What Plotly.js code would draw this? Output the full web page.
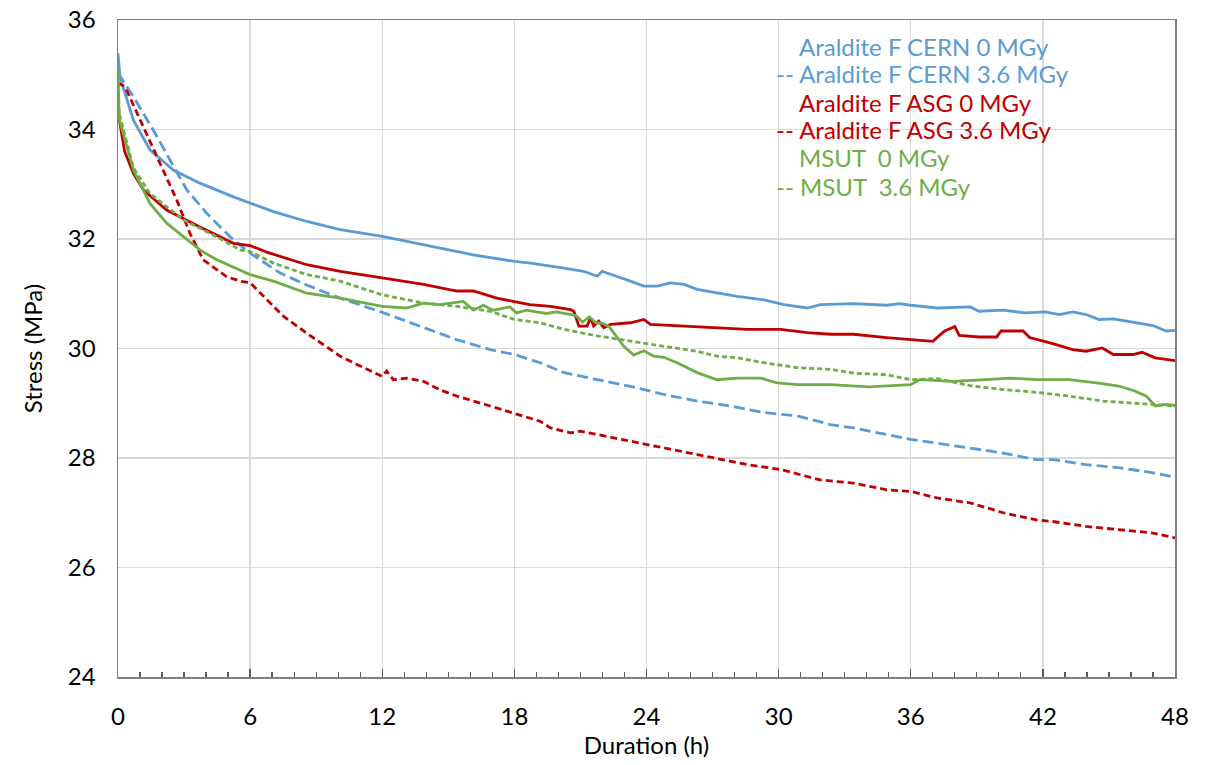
<!DOCTYPE html>
<html>
<head>
<meta charset="utf-8">
<script src="https://cdn.plot.ly/plotly-3.0.1.min.js"></script>
<style>html,body{margin:0;padding:0;background:#fff;}#chart{width:1212px;height:765px;}</style>
</head>
<body>
<div id="chart"></div>
<script>
// Araldite F CERN 0 MGy
const cern0H = [0, 0.09, 0.7, 1.45, 2.51, 3.72, 5.24, 6, 7.06, 8.57, 10.09, 12, 13.87, 16.14, 18, 18.73, 20.25, 21.15, 21.76, 21.99, 22.2, 22.67, 23.27, 23.88, 24.48, 25.09, 25.7, 26.3, 27.2, 28.12, 29.33, 30.24, 31.3, 31.9, 33.4, 34.9, 35.5, 36, 37.2, 38.7, 39.1, 40.2, 41.2, 42.1, 42.75, 43.35, 43.96, 44.56, 45.2, 46.2, 47, 47.6, 48];
const cern0V = [35.39, 34.96, 34.17, 33.63, 33.26, 33.02, 32.77, 32.66, 32.5, 32.32, 32.17, 32.05, 31.9, 31.71, 31.59, 31.56, 31.47, 31.41, 31.32, 31.41, 31.38, 31.32, 31.23, 31.14, 31.14, 31.2, 31.17, 31.08, 31.02, 30.95, 30.89, 30.8, 30.74, 30.8, 30.82, 30.79, 30.82, 30.79, 30.74, 30.76, 30.68, 30.7, 30.65, 30.67, 30.62, 30.67, 30.62, 30.53, 30.54, 30.48, 30.42, 30.32, 30.33];
// Araldite F CERN 3.6 MGy
const cern36H = [0, 0.7, 1.6, 2.36, 3.12, 4.03, 5.09, 6, 6.45, 7.36, 8.57, 10.09, 12, 13.87, 15.39, 16.9, 18, 19.17, 20.25, 21.76, 23.27, 24.79, 26.3, 27.8, 29.33, 30.84, 32.36, 33.4, 34.9, 36, 37.2, 38.7, 40.2, 41.7, 42.45, 43.96, 45.5, 47, 48];
const cern36V = [35.03, 34.6, 33.99, 33.44, 32.9, 32.47, 32.04, 31.74, 31.62, 31.38, 31.16, 30.92, 30.66, 30.38, 30.16, 29.98, 29.89, 29.74, 29.56, 29.43, 29.31, 29.16, 29.04, 28.95, 28.83, 28.77, 28.61, 28.55, 28.43, 28.34, 28.27, 28.18, 28.09, 27.97, 27.97, 27.88, 27.82, 27.73, 27.65];
// Araldite F ASG 0 MGy
const asg0H = [0, 0.05, 0.3, 0.7, 1.15, 2.21, 3.72, 5.24, 6, 6.75, 8.57, 10.09, 12, 13.87, 15.39, 16.14, 17.2, 18, 18.7, 19.64, 20.55, 20.7, 20.93, 21.3, 21.46, 21.6, 21.83, 22.06, 22.36, 23.27, 23.88, 24.18, 25.54, 27.06, 28.57, 30.09, 31.3, 32.36, 33.4, 34.9, 36, 37, 37.54, 38, 38.2, 39.1, 39.9, 40.1, 41.1, 41.4, 42.45, 43.35, 43.96, 44.7, 45.2, 46.1, 46.5, 47.1, 48];
const asg0V = [34.6, 34.2, 33.6, 33.2, 32.9, 32.53, 32.22, 31.92, 31.88, 31.76, 31.53, 31.41, 31.29, 31.17, 31.05, 31.05, 30.92, 30.86, 30.8, 30.77, 30.71, 30.68, 30.41, 30.41, 30.56, 30.41, 30.5, 30.38, 30.44, 30.47, 30.53, 30.44, 30.41, 30.38, 30.35, 30.35, 30.29, 30.26, 30.26, 30.2, 30.16, 30.13, 30.32, 30.4, 30.24, 30.21, 30.21, 30.32, 30.32, 30.2, 30.09, 29.98, 29.95, 30.01, 29.89, 29.89, 29.93, 29.83, 29.78];
// Araldite F ASG 3.6 MGy
const asg36H = [0, 0.32, 1.15, 1.9, 2.67, 3.27, 3.87, 4.94, 5.55, 6, 6.76, 7.51, 8.57, 10.09, 10.84, 12, 12.2, 12.5, 13.1, 13.87, 14.6, 15.39, 16.9, 18, 19.17, 19.64, 20.55, 21, 22.52, 24.03, 25.54, 27.06, 28.57, 30.09, 31.88, 33.4, 34.9, 36, 37.2, 38.7, 40.2, 41.7, 42.45, 43.96, 45.5, 47, 48];
const asg36V = [34.85, 34.78, 34.05, 33.38, 32.71, 32.1, 31.62, 31.31, 31.23, 31.2, 30.89, 30.59, 30.28, 29.86, 29.71, 29.49, 29.59, 29.43, 29.46, 29.4, 29.25, 29.13, 28.95, 28.82, 28.67, 28.55, 28.46, 28.49, 28.37, 28.25, 28.13, 28.0, 27.88, 27.79, 27.6, 27.54, 27.42, 27.39, 27.27, 27.18, 27.0, 26.87, 26.84, 26.75, 26.69, 26.63, 26.54];
// MSUT 0 MGy
const msut0H = [0, 0.05, 0.7, 1.45, 2.21, 2.97, 3.72, 4.48, 6, 7.06, 8.57, 10.09, 12, 13.1, 13.87, 14.6, 15.08, 15.68, 16.14, 16.59, 17.04, 17.8, 18.1, 18.55, 19.0, 19.46, 19.9, 20.36, 20.8, 21.1, 21.4, 21.7, 22.0, 22.3, 22.67, 22.97, 23.42, 23.88, 24.33, 24.79, 25.39, 26.3, 27.2, 28.12, 29.18, 29.94, 30.84, 32.36, 34.1, 36, 36.4, 37.9, 39.4, 40.5, 41.7, 43.2, 44.7, 45.5, 46.2, 46.7, 47.1, 47.6, 48];
const msut0V = [35.1, 34.2, 33.26, 32.65, 32.29, 32.04, 31.8, 31.62, 31.35, 31.23, 31.01, 30.92, 30.77, 30.74, 30.83, 30.8, 30.83, 30.86, 30.7, 30.79, 30.7, 30.76, 30.65, 30.7, 30.67, 30.64, 30.67, 30.64, 30.6, 30.48, 30.58, 30.47, 30.46, 30.4, 30.2, 30.04, 29.88, 29.96, 29.86, 29.84, 29.74, 29.56, 29.43, 29.46, 29.46, 29.37, 29.34, 29.34, 29.3, 29.34, 29.43, 29.4, 29.43, 29.46, 29.43, 29.43, 29.36, 29.31, 29.22, 29.13, 28.95, 28.98, 28.96];
// MSUT 3.6 MGy
const msut36H = [0, 0.05, 0.7, 1.45, 2.97, 4.48, 5.55, 6, 7.06, 8.57, 10.09, 12, 13.87, 15.39, 16.9, 18, 19.17, 20.25, 21.76, 23.27, 24.79, 26.3, 27.2, 28.12, 29.33, 30.84, 32.36, 33.4, 34.9, 36, 37.2, 38.7, 40.2, 41.7, 43.2, 44.7, 46.2, 47, 48];
const msut36V = [35.0, 34.3, 33.3, 32.83, 32.35, 32.04, 31.8, 31.77, 31.56, 31.35, 31.23, 30.98, 30.83, 30.77, 30.68, 30.53, 30.47, 30.35, 30.23, 30.13, 30.04, 29.95, 29.86, 29.83, 29.74, 29.65, 29.62, 29.55, 29.52, 29.43, 29.45, 29.32, 29.25, 29.2, 29.13, 29.04, 29.0, 28.98, 28.95];

const seriesNames = ["Araldite F CERN 0 MGy", "Araldite F CERN 3.6 MGy", "Araldite F ASG 0 MGy", "Araldite F ASG 3.6 MGy", "MSUT  0 MGy", "MSUT  3.6 MGy"];
const legendLabels = ["Araldite F CERN 0 MGy", "-- Araldite F CERN 3.6 MGy", "Araldite F ASG 0 MGy", "-- Araldite F ASG 3.6 MGy", "MSUT&nbsp;&nbsp;0 MGy", "-- MSUT&nbsp;&nbsp;3.6 MGy"];

const BLUE = "#5B9BD5", RED = "#C00000", GREEN = "#70AD47";
const xs = [cern0H, cern36H, asg0H, asg36H, msut0H, msut36H];
const ys = [cern0V, cern36V, asg0V, asg36V, msut0V, msut36V];
const colors = [BLUE, BLUE, RED, RED, GREEN, GREEN];
const dashes = ["solid", "11px,5px", "solid", "7px,4px", "solid", "5px,3px"];

const traces = xs.map((x, i) => ({
  x: x, y: ys[i], name: seriesNames[i], type: "scatter", mode: "lines",
  line: {color: colors[i], width: 2.8, dash: dashes[i], shape: "linear"},
  showlegend: false, hoverinfo: "skip"
}));

const FONT = "Lato, 'Open Sans', sans-serif";
const rowY = [0.960, 0.918, 0.875, 0.833, 0.790, 0.747];
const annotations = legendLabels.map((t, i) => ({
  xref: "paper", yref: "paper",
  x: t.startsWith("--") ? 0.621 : 0.642, y: rowY[i],
  xanchor: "left", yanchor: "middle", showarrow: false,
  text: t, font: {family: FONT, size: 24, color: colors[i]}
}));

const layout = {
  width: 1212, height: 765,
  margin: {l: 118, r: 37, t: 20, b: 88},
  paper_bgcolor: "#fff", plot_bgcolor: "#fff",
  font: {family: FONT, size: 24, color: "#000"},
  xaxis: {
    range: [0, 48], dtick: 6, tick0: 0,
    showgrid: true, gridcolor: "#d9d9d9", gridwidth: 1.3,
    showline: true, linecolor: "#7f7f7f", linewidth: 1.5, mirror: true,
    ticks: "inside", ticklen: 8, tickcolor: "#595959", tickwidth: 1.3,
    minor: {dtick: 1, ticks: "inside", ticklen: 5, tickcolor: "#595959", tickwidth: 1.3, showgrid: false},
    tickfont: {family: FONT, size: 24, color: "#000"},
    ticklabelstandoff: 18,
    zeroline: false,
    title: {text: "Duration (h)", font: {family: FONT, size: 24, color: "#000"}, standoff: 2}
  },
  yaxis: {
    range: [24, 36], dtick: 2, tick0: 24,
    showgrid: true, gridcolor: "#d9d9d9", gridwidth: 1.3,
    showline: true, linecolor: "#7f7f7f", linewidth: 1.5, mirror: true,
    ticks: "",
    tickfont: {family: FONT, size: 24, color: "#000"},
    ticklabelstandoff: 16,
    zeroline: false,
    title: {text: "Stress (MPa)", font: {family: FONT, size: 24, color: "#000"}, standoff: 18}
  },
  annotations: annotations,
  showlegend: false
};

Plotly.newPlot("chart", traces, layout, {displayModeBar: false, staticPlot: true});
</script>
</body>
</html>
